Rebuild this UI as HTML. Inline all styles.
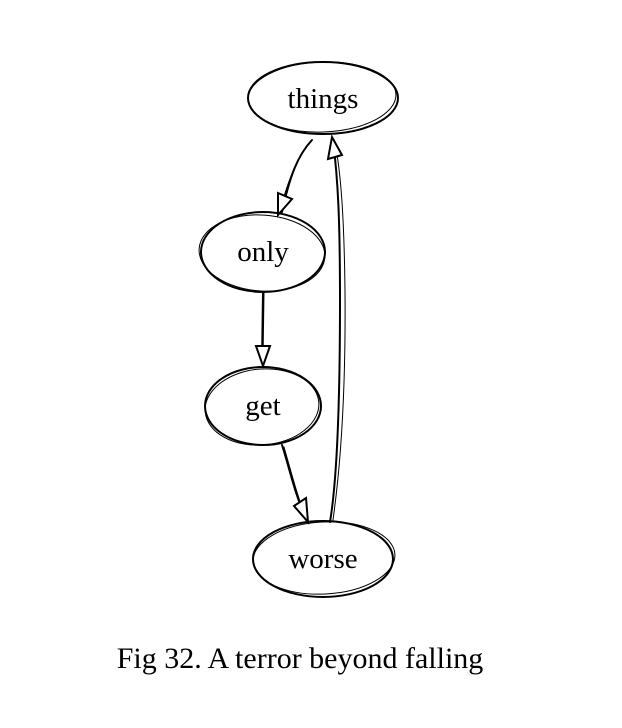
<!DOCTYPE html>
<html><head><meta charset="utf-8"><style>
html,body{margin:0;padding:0;background:#fff;}
svg{display:block;}
text{font-family:"Liberation Serif",serif;fill:#000;}
</style></head><body>
<svg width="622" height="728" viewBox="0 0 622 728" xmlns="http://www.w3.org/2000/svg">
<g fill="none" stroke="#000" stroke-width="2" stroke-linecap="round">
<ellipse cx="323" cy="98" rx="75" ry="36"/>
<ellipse cx="322" cy="97" rx="74" ry="35" stroke-width="1" transform="rotate(-2 322 97)"/>
<ellipse cx="263" cy="252" rx="62" ry="40"/>
<ellipse cx="262" cy="253" rx="63" ry="38" stroke-width="1" transform="rotate(4 262 253)"/>
<ellipse cx="263" cy="406" rx="58" ry="39"/>
<ellipse cx="262" cy="407" rx="57" ry="38" stroke-width="1" transform="rotate(-5 262 407)"/>
<ellipse cx="323" cy="559" rx="70" ry="38"/>
<ellipse cx="324" cy="558" rx="71" ry="36" stroke-width="1" transform="rotate(-3 324 558)"/>
<path d="M312 140 C298 155 290 175 282 212"/>
<path d="M310 142 C297 158 289 178 280 210" stroke-width="1"/>
<path d="M263 292 L262 363"/>
<path d="M264 292 L263 360" stroke-width="1"/>
<path d="M282 445 C290 470 295 495 307 521"/>
<path d="M284 447 C292 475 298 498 306 518" stroke-width="1"/>
<path d="M330 522 C337 480 340 400 340 300 C340 220 338 180 333 140"/>
<path d="M333 520 C340 470 346 400 345 290 C344 215 341 175 335 142" stroke-width="1"/>
<path d="M278 193 L292 199 L278 215 Z" fill="#fff"/>
<path d="M256 346 L270 346 L263 366 Z" fill="#fff"/>
<path d="M294 506 L306 498 L308 522 Z" fill="#fff"/>
<path d="M328 159 L342 155 L332 137 Z" fill="#fff"/>
</g>
<text x="323" y="108" font-size="29" text-anchor="middle">things</text>
<text x="263" y="261" font-size="29" text-anchor="middle">only</text>
<text x="263" y="415" font-size="29" text-anchor="middle">get</text>
<text x="323" y="568" font-size="29" text-anchor="middle">worse</text>
<text x="300" y="668" font-size="30" text-anchor="middle">Fig 32. A terror beyond falling</text>
</svg>
</body></html>
